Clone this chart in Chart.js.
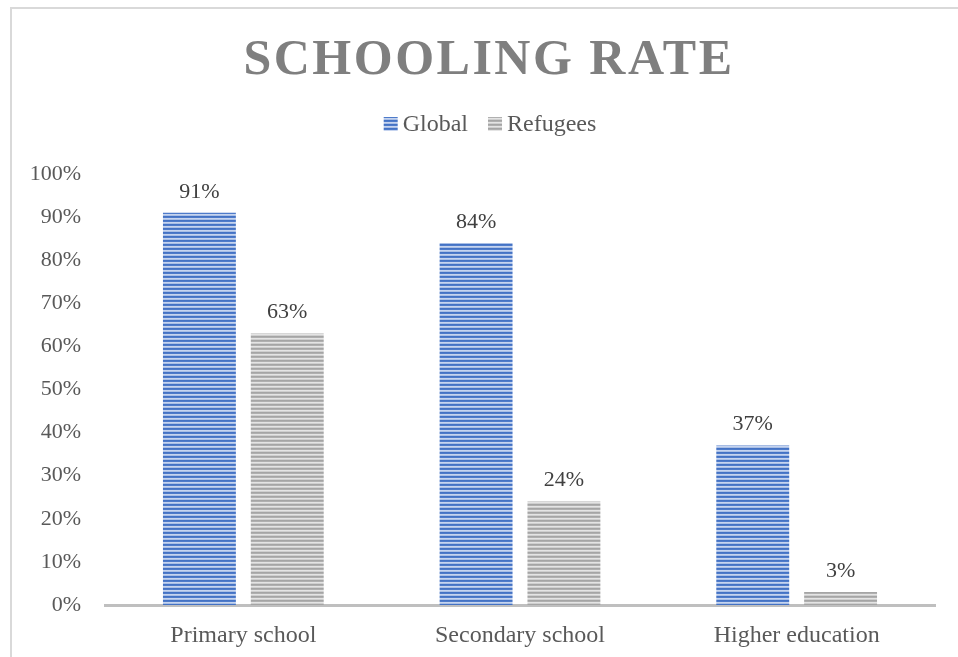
<!DOCTYPE html>
<html><head><meta charset="utf-8">
<script src="https://cdn.jsdelivr.net/npm/chart.js@4"></script>
<style>html,body{margin:0;padding:0;background:#fff}#wrap{width:958px;height:657px}</style>
</head><body><div id="wrap"><canvas id="c" width="958" height="657"></canvas></div>
<script>
const categories = ["Primary school", "Secondary school", "Higher education"];
const globalValues = [0.91, 0.84, 0.37];
const refugeeValues = [0.63, 0.24, 0.03];
const seriesNames = ["Global", "Refugees"];
const titleText = "SCHOOLING RATE";

function stripes(colors){
  const c = document.createElement('canvas');
  c.width = 4; c.height = colors.length;
  const x = c.getContext('2d');
  colors.forEach((col,i)=>{x.fillStyle=col;x.fillRect(0,i,4,1);});
  return x.createPattern(c,'repeat');
}
const ctx = document.getElementById('c').getContext('2d');
const bluePat = stripes(['#4472C4','#4e7bca','#c6d4ef','#a9bfe6']);
const grayPat = stripes(['#a5a5a5','#b0b0b0','#e4e4e4','#cfcfcf']);

const serif = "'Liberation Serif','Times New Roman',serif";

const decor = {
  id:'decor',
  beforeDraw(chart){
    const c = chart.ctx;
    c.save();
    c.strokeStyle = '#d9d9d9'; c.lineWidth = 2;
    c.beginPath(); c.moveTo(11, 700); c.lineTo(11, 8); c.lineTo(1000, 8); c.stroke();
    c.restore();
  },
  afterDraw(chart){
    const c = chart.ctx;
    // title
    c.save();
    c.font = "bold 50px " + serif;
    c.fillStyle = '#7f7f7f';
    c.letterSpacing = '2.5px';
    c.textAlign = 'center'; c.textBaseline = 'alphabetic';
    c.fillText(titleText, 489, 74);
    c.restore();
    // legend
    c.save();
    c.font = "24px " + serif;
    c.textBaseline = 'middle';
    const gapBoxText = 5, gapItems = 20, box = 14, ly = 124;
    const items = chart.data.datasets.map(ds => ({label: ds.label, fill: ds.backgroundColor, w: box + gapBoxText + c.measureText(ds.label).width}));
    const total = items.reduce((a,it)=>a+it.w,0) + gapItems*(items.length-1);
    let x = 490 - total/2;
    items.forEach(it=>{
      c.fillStyle = it.fill;
      c.fillRect(x, ly - box/2, box, box);
      c.fillStyle = '#595959';
      c.fillText(it.label, x + box + gapBoxText, ly + 1);
      x += it.w + gapItems;
    });
    c.restore();
    // data labels
    c.save();
    c.font = "22px " + serif;
    c.fillStyle = '#404040';
    c.textAlign = 'center'; c.textBaseline = 'bottom';
    chart.data.datasets.forEach((ds,di)=>{
      chart.getDatasetMeta(di).data.forEach((bar,i)=>{
        c.fillText(Math.round(ds.data[i]*100)+'%', bar.x, bar.y - 10);
      });
    });
    c.restore();
  }
};

new Chart(ctx, {
  type:'bar',
  data:{
    labels: categories,
    datasets:[
      {label: seriesNames[0], data: globalValues, backgroundColor: bluePat, borderWidth:0},
      {label: seriesNames[1], data: refugeeValues, backgroundColor: grayPat, borderWidth:0}
    ]
  },
  options:{
    responsive:false, animation:false,
    layout:{padding:{top:174, left:10, right:23, bottom:0}},
    datasets:{bar:{categoryPercentage:0.635, barPercentage:0.83}},
    plugins:{
      title:{display:false},
      tooltip:{enabled:false},
      legend:{display:false}
    },
    scales:{
      y:{
        min:0, max:1,
        ticks:{stepSize:0.1, callback:v=>Math.round(v*100)+'%', font:{family:serif,size:22}, color:'#595959', padding:16},
        grid:{display:false}, border:{display:false},
        afterFit(s){ s.width = 95; }
      },
      x:{
        ticks:{font:{family:serif,size:24}, color:'#595959', padding:8},
        grid:{display:false},
        border:{display:true, color:'#bfbfbf', width:3},
        afterFit(s){ s.height = 52; }
      }
    }
  },
  plugins:[decor]
});
</script></body></html>
